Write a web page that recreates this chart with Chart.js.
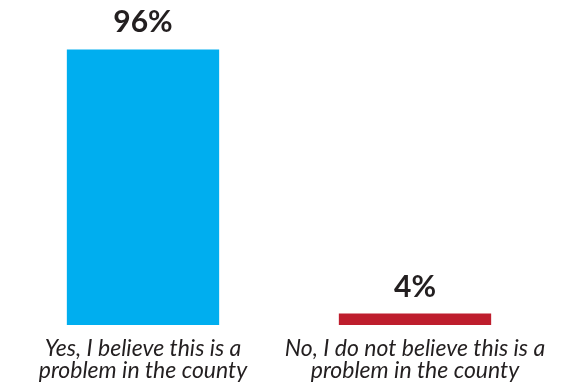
<!DOCTYPE html>
<html>
<head>
<meta charset="utf-8">
<script src="https://cdn.jsdelivr.net/npm/chart.js@4/dist/chart.umd.min.js"></script>
<style>
  html, body { margin: 0; padding: 0; background: #fff; }
  #wrap { width: 582px; height: 386px; }
</style>
</head>
<body>
<div id="wrap"><canvas id="chart"></canvas></div>
<script>
const categories = [
    ['Yes, I believe this is a', 'problem in the county'],
    ['No, I do not believe this is a', 'problem in the county']
]
const values = [96, 4]
const barColors = ['#00aeef', '#be1e2d']

// percent labels above each bar
const valueLabels = {
    id: 'valueLabels',
    afterDatasetsDraw(chart) {
        const ctx = chart.ctx
        const meta = chart.getDatasetMeta(0)
        ctx.save()
        ctx.font = 'bold 30px Lato'
        ctx.fillStyle = '#231f20'
        ctx.textAlign = 'center'
        ctx.textBaseline = 'alphabetic'
        meta.data.forEach((bar, i) => {
            ctx.fillText(values[i] + '%', bar.x, bar.y - 17)
        })
        ctx.restore()
    }
}

new Chart(document.getElementById('chart'), {
    type: 'bar',
    data: {
        labels: categories,
        datasets: [{
            data: values,
            backgroundColor: barColors,
            borderWidth: 0,
            categoryPercentage: 1,
            barPercentage: 0.56
        }]
    },
    options: {
        responsive: true,
        maintainAspectRatio: false,
        animation: false,
        layout: {
            padding: { left: 7, right: 31, top: 38, bottom: 0 }
        },
        plugins: {
            legend: { display: false },
            tooltip: { enabled: false }
        },
        scales: {
            x: {
                grid: { display: false, drawTicks: false },
                border: { display: false },
                afterFit(scale) { scale.height = 61 },
                ticks: {
                    color: '#231f20',
                    padding: 13,
                    maxRotation: 0,
                    font: { family: 'Lato', style: 'italic', size: 23, lineHeight: 0.95 }
                }
            },
            y: {
                display: false,
                min: 0,
                max: 100
            }
        }
    },
    plugins: [valueLabels]
})
</script>
</body>
</html>
